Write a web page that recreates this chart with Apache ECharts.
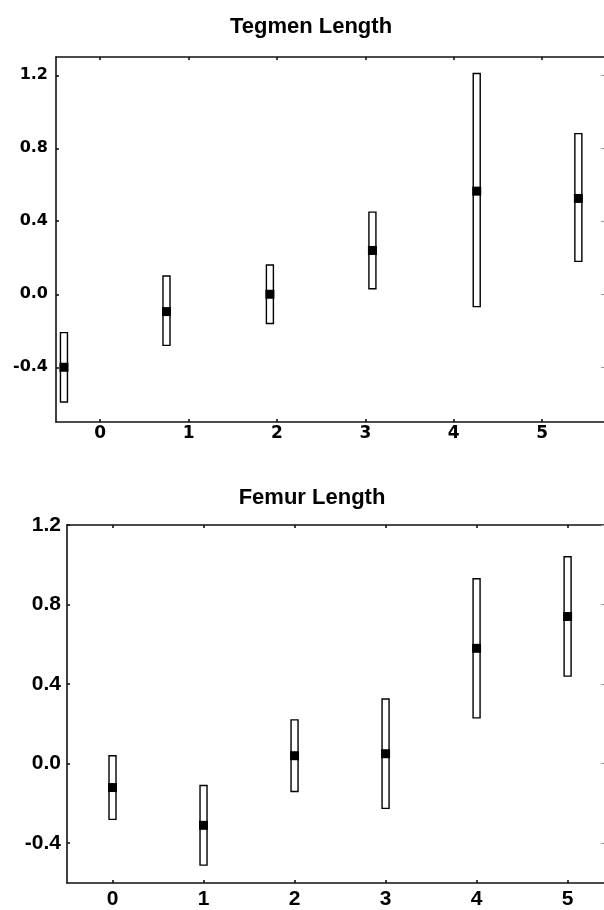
<!DOCTYPE html>
<html>
<head>
<meta charset="utf-8">
<script src="https://cdn.jsdelivr.net/npm/echarts@6/dist/echarts.min.js"></script>
<style>
  html, body { margin: 0; padding: 0; background: #fff; }
  #chart { width: 604px; height: 910px; }
</style>
</head>
<body>
<div id="chart"></div>
<script>
// Tegmen Length (points are offset along x)
const tegmenX = [-0.41, 0.75, 1.92, 3.08, 4.26, 5.41]
const tegmenMean = [-0.40, -0.095, 0.0, 0.24, 0.565, 0.525]
const tegmenLow = [-0.59, -0.28, -0.16, 0.03, -0.068, 0.18]
const tegmenHigh = [-0.21, 0.10, 0.16, 0.45, 1.21, 0.88]

// Femur Length
const femurX = [0, 1, 2, 3, 4, 5]
const femurMean = [-0.12, -0.31, 0.04, 0.05, 0.58, 0.74]
const femurLow = [-0.28, -0.51, -0.14, -0.225, 0.23, 0.44]
const femurHigh = [0.04, -0.11, 0.22, 0.325, 0.93, 1.04]

// tick labels
const xTicks = [0, 1, 2, 3, 4, 5]
const yTicks = [-0.4, 0.0, 0.4, 0.8, 1.2]

const chart = echarts.init(document.getElementById('chart'))

const lineStyle = { color: '#111', width: 1.6 }

function xAxisPair(grid, min, max, font, margin) {
  return [
    {
      type: 'value', gridIndex: grid, min: min, max: max, position: 'bottom',
      splitLine: { show: false },
      axisLine: { show: true, onZero: false, lineStyle: lineStyle },
      axisTick: { show: true, inside: true, length: 3, customValues: xTicks, lineStyle: lineStyle },
      axisLabel: { customValues: xTicks, margin: margin, color: '#000', fontWeight: 'bold', fontSize: font.size, fontFamily: font.family }
    },
    {
      type: 'value', gridIndex: grid, min: min, max: max, position: 'top',
      splitLine: { show: false },
      axisLine: { show: true, onZero: false, lineStyle: lineStyle },
      axisTick: { show: true, inside: true, length: 3, customValues: xTicks, lineStyle: lineStyle },
      axisLabel: { show: false }
    }
  ]
}

function yAxisPair(grid, min, max, font, margin) {
  return [
    {
      type: 'value', gridIndex: grid, min: min, max: max, position: 'left',
      splitLine: { show: false },
      axisLine: { show: true, onZero: false, lineStyle: lineStyle },
      axisTick: { show: true, inside: true, length: 3, customValues: yTicks, lineStyle: lineStyle },
      axisLabel: {
        customValues: yTicks, margin: margin, color: '#000', fontWeight: 'bold',
        fontSize: font.size, fontFamily: font.family,
        formatter: v => v.toFixed(1)
      }
    },
    {
      // right edge of the frame is cut off in the picture, only tick stubs remain
      type: 'value', gridIndex: grid, min: min, max: max, position: 'right',
      splitLine: { show: false },
      axisLine: { show: false, onZero: false },
      axisTick: { show: true, inside: true, length: 3, customValues: yTicks, lineStyle: { color: '#999', width: 1 } },
      axisLabel: { show: false }
    }
  ]
}

function makeData(xs, mean, lo, hi) {
  return xs.map((x, i) => [x, mean[i], lo[i], hi[i]])
}

function renderBox(params, api) {
  const x = api.value(0)
  const pM = api.coord([x, api.value(1)])
  const pLo = api.coord([x, api.value(2)])
  const pHi = api.coord([x, api.value(3)])
  return {
    type: 'group',
    children: [
      {
        type: 'rect',
        shape: { x: pLo[0] - 3.5, y: pHi[1], width: 7, height: pLo[1] - pHi[1] },
        style: { fill: '#fff', stroke: '#000', lineWidth: 1.4 }
      },
      {
        type: 'rect',
        shape: { x: pM[0] - 4.5, y: pM[1] - 4.5, width: 9, height: 9 },
        style: { fill: '#000' }
      }
    ]
  }
}

const fontTop = { size: 16, family: '"DejaVu Sans"' }
const fontTopX = { size: 17, family: '"DejaVu Sans"' }
const fontBottom = { size: 21, family: '"Liberation Sans"' }

chart.setOption({
  animation: false,
  backgroundColor: '#fff',
  title: [
    {
      text: 'Tegmen Length', left: 311, top: 16, textAlign: 'center', padding: 0,
      textStyle: { fontSize: 22, fontWeight: 'bold', fontFamily: '"Liberation Sans"', color: '#000' }
    },
    {
      text: 'Femur Length', left: 312, top: 487, textAlign: 'center', padding: 0,
      textStyle: { fontSize: 22, fontWeight: 'bold', fontFamily: '"Liberation Sans"', color: '#000' }
    }
  ],
  grid: [
    { left: 56, right: 0, top: 57, bottom: 488 },
    { left: 67, right: 0, top: 525, bottom: 27 }
  ],
  xAxis: [].concat(
    xAxisPair(0, -0.5, 5.7, fontTopX, 3),
    xAxisPair(1, -0.5, 5.4, fontBottom, 6)
  ),
  yAxis: [].concat(
    yAxisPair(0, -0.7, 1.3, fontTop, 8),
    yAxisPair(1, -0.6, 1.2, fontBottom, 6)
  ),
  series: [
    {
      name: 'Tegmen Length', type: 'custom', xAxisIndex: 0, yAxisIndex: 0,
      renderItem: renderBox, encode: { x: 0, y: [1, 2, 3] },
      data: makeData(tegmenX, tegmenMean, tegmenLow, tegmenHigh)
    },
    {
      name: 'Femur Length', type: 'custom', xAxisIndex: 2, yAxisIndex: 2,
      renderItem: renderBox, encode: { x: 0, y: [1, 2, 3] },
      data: makeData(femurX, femurMean, femurLow, femurHigh)
    }
  ]
})
</script>
</body>
</html>
